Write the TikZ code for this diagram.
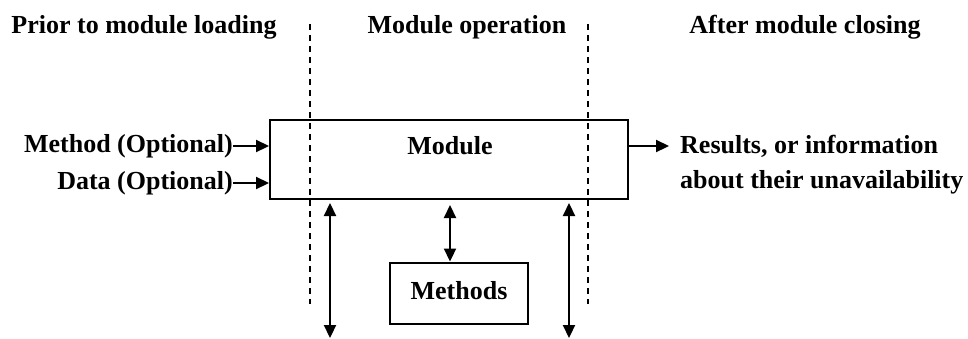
\documentclass[tikz,border=0pt]{standalone}
\usepackage{fontspec}
\setmainfont{Liberation Serif}
\usetikzlibrary{arrows.meta}
\begin{document}
\begin{tikzpicture}[x=1pt,y=-1pt,
  lbl/.style={font=\bfseries\fontsize{26}{35}\selectfont, inner sep=0pt},
  boxn/.style={draw, line width=2pt, inner sep=0pt},
  arr/.style={line width=2.2pt, -{Triangle[length=13pt,width=12pt]}},
  darr/.style={line width=2.2pt, {Triangle[length=13pt,width=12pt]}-{Triangle[length=13pt,width=12pt]}},
  sep/.style={dashed, line width=1.4pt, dash pattern=on 6pt off 5pt}]
\useasboundingbox (0,0) rectangle (968,338);
% headings
\node[lbl] (h1) at (144,27) {Prior to module loading};
\node[lbl] (h2) at (467,27) {Module operation};
\node[lbl] (h3) at (805,27) {After module closing};
% module box
\node[boxn, minimum width=358pt, minimum height=79pt] (mod) at (449,159.5) {};
\node[lbl] (modt) at (450,146) {Module};
% dashed separators
\coordinate (d1t) at (310,24); \coordinate (d1b) at (310,304);
\coordinate (d2t) at (588,24); \coordinate (d2b) at (588,304);
\draw[sep] (d1t) -- (d1b);
\draw[sep] (d2t) -- (d2b);
% inputs
\node[lbl, anchor=east] (inm) at (233,146) {Method (Optional)};
\node[lbl, anchor=east] (ind) at (233,183) {Data (Optional)};
\draw[arr] (inm.east) -- (mod.west |- inm.east);
\draw[arr] (ind.east) -- (mod.west |- ind.east);
% output
\node[lbl, anchor=west, align=left] (out) at (680,164.5) {Results, or information\\about their unavailability};
\coordinate (oe) at (669,146);
\draw[arr] (mod.east |- oe) -- (oe);
% methods box
\node[boxn, minimum width=138pt, minimum height=61pt] (meth) at (459,293) {};
\node[lbl] (metht) at (459,291) {Methods};
\draw[darr] (mod.south -| 450,0) ++(0,5) -- (meth.north -| 450,0);
% long double arrows
\coordinate (la) at (330,203); \coordinate (lb) at (330,338);
\coordinate (ra) at (569,203); \coordinate (rb) at (569,338);
\draw[darr] (la) -- (lb);
\draw[darr] (ra) -- (rb);
\end{tikzpicture}
\end{document}
